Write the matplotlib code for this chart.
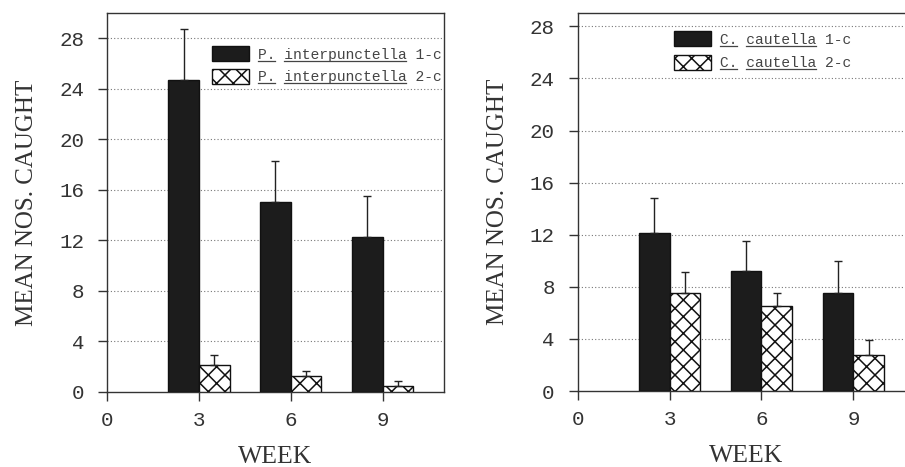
import matplotlib
matplotlib.use('Agg')
import matplotlib.pyplot as plt
from matplotlib.lines import Line2D
import numpy as np

weeks = [3, 6, 9]

# left panel: P. interpunctella
pi_1c_mean = [24.7, 15.0, 12.3]
pi_1c_err = [4.0, 3.3, 3.2]
pi_2c_mean = [2.1, 1.3, 0.5]
pi_2c_err = [0.8, 0.4, 0.4]

# right panel: C. cautella
cc_1c_mean = [12.1, 9.2, 7.5]
cc_1c_err = [2.7, 2.3, 2.5]
cc_2c_mean = [7.5, 6.5, 2.8]
cc_2c_err = [1.6, 1.0, 1.1]

x_ticks = [0, 3, 6, 9]
y_ticks = [0, 4, 8, 12, 16, 20, 24, 28]

panels = [
    dict(rect=[0.1182, 0.1606, 0.3724, 0.8116], ylim=30.0,
         genus='P.', species='interpunctella',
         m1=pi_1c_mean, e1=pi_1c_err, m2=pi_2c_mean, e2=pi_2c_err,
         leg_anchor=(0.313, 0.912), spacing=0.5),
    dict(rect=[0.6383, 0.1627, 0.3724, 0.8088], ylim=29.0,
         genus='C.', species='cautella',
         m1=cc_1c_mean, e1=cc_1c_err, m2=cc_2c_mean, e2=cc_2c_err,
         leg_anchor=(0.287, 0.952), spacing=0.55),
]

text_col = '#333333'
tick_font = 'Liberation Mono'
label_font = 'Liberation Serif'

plt.rcParams['hatch.linewidth'] = 1.1

fig = plt.figure(figsize=(9.05, 4.67), dpi=100)

legends = []
for p in panels:
    ax = fig.add_axes(p['rect'])
    x = np.array(weeks, dtype=float)
    w = 1.0

    ax.bar(x - w / 2, p['m1'], width=w, color='#1c1c1c', edgecolor='#111111',
           linewidth=1.0, zorder=3, label=f"{p['genus']} {p['species']} 1-c")
    ax.bar(x + w / 2, p['m2'], width=w, color='white', edgecolor='#111111',
           hatch='xx', linewidth=1.0, zorder=3, label=f"{p['genus']} {p['species']} 2-c")

    zeros = [0] * len(weeks)
    ax.errorbar(x - w / 2, p['m1'], yerr=[zeros, p['e1']], fmt='none',
                ecolor='#222222', elinewidth=1.0, capsize=3.0, capthick=1.0, zorder=4)
    ax.errorbar(x + w / 2, p['m2'], yerr=[zeros, p['e2']], fmt='none',
                ecolor='#222222', elinewidth=1.0, capsize=3.0, capthick=1.0, zorder=4)

    ax.set_xlim(0, 11)
    ax.set_ylim(0, p['ylim'])
    ax.set_xticks(x_ticks)
    ax.set_yticks(y_ticks)
    ax.tick_params(direction='out', length=6.5, width=1.0, color='#333333',
                   labelsize=15, labelcolor=text_col)
    ax.tick_params(axis='y', pad=10)
    ax.tick_params(axis='x', pad=7)
    for lab in ax.get_xticklabels() + ax.get_yticklabels():
        lab.set_fontfamily(tick_font)

    for yv in y_ticks[1:]:
        ax.axhline(yv, color='#777777', linestyle=(0, (1, 2)), linewidth=0.8, zorder=1)

    for s in ax.spines.values():
        s.set_color('#333333')
        s.set_linewidth(1.0)

    ax.set_xlabel('WEEK', fontfamily=label_font, fontsize=18.5, color=text_col, labelpad=12)
    ax.set_ylabel('MEAN NOS. CAUGHT', fontfamily=label_font, fontsize=18, color=text_col,
                  labelpad=15)

    leg = ax.legend(loc='upper left', bbox_to_anchor=p['leg_anchor'], frameon=False,
                    prop={'family': tick_font, 'size': 10.5}, handlelength=2.5,
                    handleheight=1.2, handletextpad=0.6, labelspacing=p['spacing'],
                    borderpad=0, borderaxespad=0)
    for t in leg.get_texts():
        t.set_color('#444444')
    legends.append((leg, len(p['genus']), len(p['species'])))

# underline genus and species names in the legend labels
fig.canvas.draw()
renderer = fig.canvas.get_renderer()
for leg, ng, ns in legends:
    for t in leg.get_texts():
        bb = t.get_window_extent(renderer)
        n = len(t.get_text())
        cw = bb.width / n
        y = bb.y0 + 1.0
        for start, length in [(0, ng), (ng + 1, ns)]:
            x0 = bb.x0 + start * cw
            x1 = x0 + length * cw
            fig.add_artist(Line2D([x0, x1], [y, y], transform=None,
                                  color='#444444', linewidth=0.9))

fig.savefig('out.png', dpi=100)
